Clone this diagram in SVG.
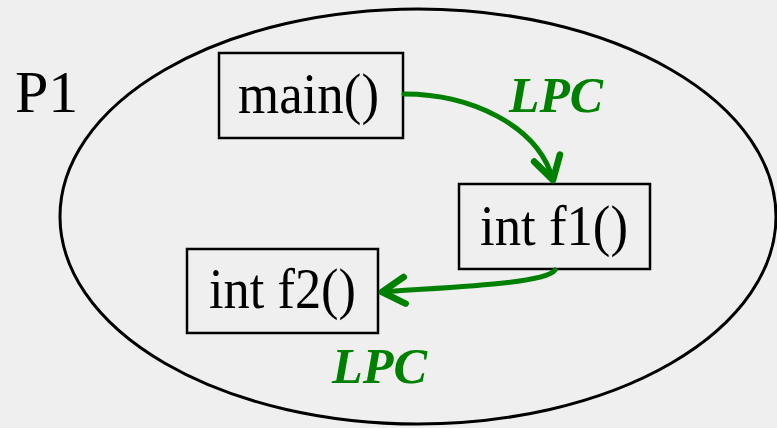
<svg xmlns="http://www.w3.org/2000/svg" width="777" height="428" viewBox="0 0 777 428">
<style>
.box{fill:none;stroke:#000;stroke-width:2.5}
.lbl{font-family:"Liberation Serif","Times New Roman",serif;font-size:56px;fill:#000}
.lpc{font-family:"Liberation Serif","Times New Roman",serif;font-size:50px;font-weight:bold;font-style:italic;fill:#008000}
.conn{fill:none;stroke:#008000;stroke-width:5;stroke-linecap:round}
</style>
<defs>
<marker id="arr" markerUnits="userSpaceOnUse" markerWidth="40" markerHeight="40" viewBox="-25 -15 30 30" refX="0" refY="0" orient="auto" overflow="visible">
<path d="M-17,-10 L0,0 L-17,10" fill="none" stroke="#008000" stroke-width="5" stroke-linecap="round" stroke-linejoin="round"/>
</marker>
</defs>
<rect width="777" height="428" fill="#efefef"/>
<g id="P1">
<ellipse cx="418" cy="216.5" rx="358" ry="207.5" fill="none" stroke="#000" stroke-width="3"/>
<text x="15" y="112" font-family="'Liberation Serif','Times New Roman',serif" font-size="60" fill="#000">P1</text>
</g>
<g id="main">
<rect class="box" x="219" y="53" width="184" height="85"/>
<text class="lbl" x="238" y="113" textLength="141" lengthAdjust="spacingAndGlyphs">main()</text>
</g>
<g id="f1">
<rect class="box" x="459" y="184" width="191" height="85"/>
<text class="lbl" x="480" y="245" textLength="148" lengthAdjust="spacingAndGlyphs">int f1()</text>
</g>
<g id="f2">
<rect class="box" x="187" y="249" width="191" height="84"/>
<text class="lbl" x="209" y="308" textLength="147" lengthAdjust="spacingAndGlyphs">int f2()</text>
</g>
<g id="connectors">
<path class="conn" d="M404,94 C470,94 538,125 553,180" marker-end="url(#arr)"/>
<path class="conn" d="M555,270 C545,284 450,287 382,292" marker-end="url(#arr)"/>
<text class="lpc" x="509" y="112" textLength="94" lengthAdjust="spacingAndGlyphs">LPC</text>
<text class="lpc" x="332" y="383" textLength="95" lengthAdjust="spacingAndGlyphs">LPC</text>
</g>
</svg>
